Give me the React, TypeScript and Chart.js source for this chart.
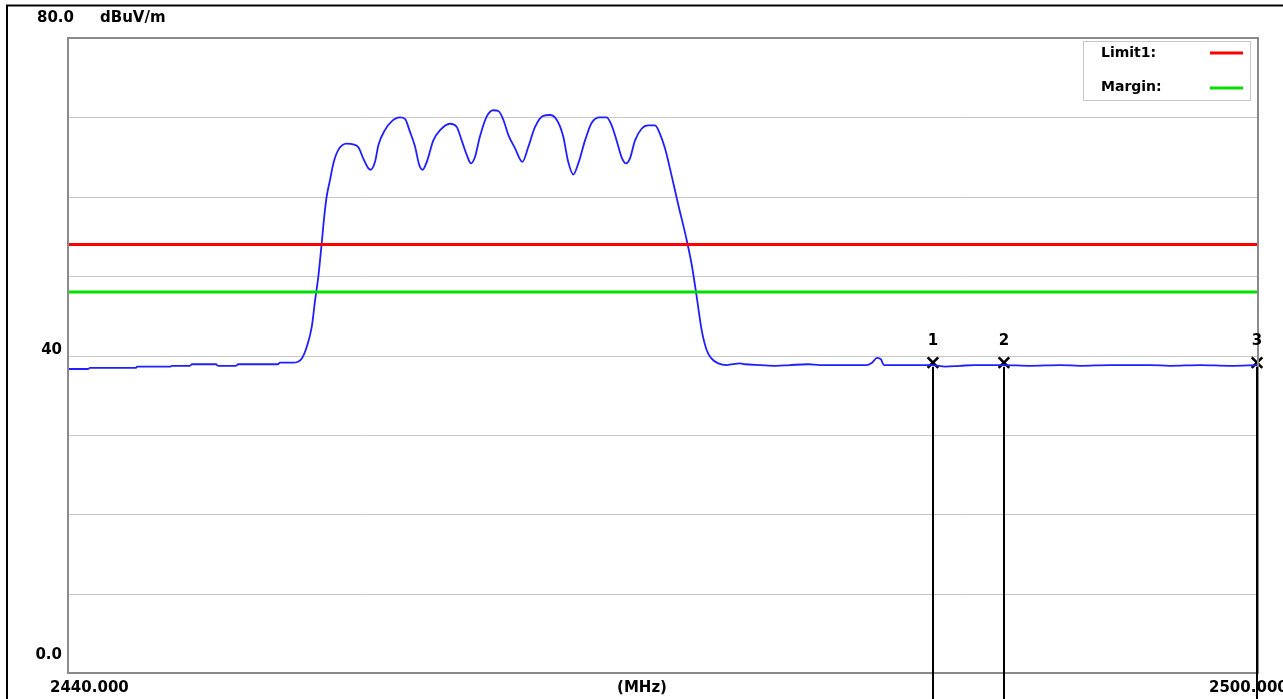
import React, { useEffect, useRef } from 'react';
import { Chart, registerables } from 'chart.js';

Chart.register(...registerables);

// Spectrum trace (frequency in MHz, level in dBuV/m)
const freqMHz = [
  2440.0, 2441.01, 2441.11, 2443.43, 2443.48, 2445.14, 2445.24, 2446.15, 2446.25, 2447.46,
  2447.56, 2448.47, 2448.57, 2450.59, 2450.69, 2451.34, 2451.78, 2452.04, 2452.29, 2452.46,
  2452.62, 2452.79, 2452.92, 2453.04, 2453.21, 2453.38, 2453.63, 2454.05, 2454.38, 2454.65,
  2454.89, 2455.14, 2455.26, 2455.48, 2455.65, 2455.98, 2456.32, 2456.74, 2456.99, 2457.24,
  2457.5, 2457.71, 2457.88, 2458.09, 2458.42, 2458.76, 2459.26, 2459.6, 2459.85, 2460.1,
  2460.32, 2460.52, 2460.77, 2461.11, 2461.44, 2461.7, 2461.95, 2462.2, 2462.54, 2462.91,
  2463.21, 2463.55, 2463.96, 2464.3, 2464.64, 2464.97, 2465.22, 2465.48, 2465.73, 2466.07,
  2466.4, 2466.82, 2467.16, 2467.41, 2467.66, 2467.91, 2468.13, 2468.33, 2468.59, 2468.93,
  2469.26, 2469.6, 2469.85, 2470.1, 2470.44, 2470.77, 2471.19,
  2471.45, 2471.7, 2471.95, 2472.2, 2472.45, 2472.79, 2473.21,
  2473.88, 2474.13, 2474.89, 2475.7, 2476.4, 2477.31, 2477.92, 2479.23, 2480.24, 2480.54,
  2480.79, 2480.99, 2481.14, 2482.2, 2483.61, 2484.22, 2484.97, 2485.73, 2487.19, 2488.5,
  2490.02, 2491.03, 2492.54, 2494.55, 2495.56, 2497.08, 2498.59, 2500.0,
];
const levelDbuV = [
  38.3, 38.3, 38.45, 38.45, 38.6, 38.6, 38.7, 38.7, 38.9, 38.9,
  38.7, 38.7, 38.9, 38.9, 39.1, 39.1, 39.6, 41.1, 43.6, 47.0,
  49.9, 54.1, 57.5, 60.0, 62.1, 64.2, 65.9, 66.7, 66.6, 66.2,
  64.8, 63.6, 63.4, 64.4, 66.5, 68.4, 69.5, 70.0, 69.8, 68.2,
  66.3, 64.0, 63.4, 64.4, 67.1, 68.4, 69.2, 68.8, 67.1, 65.3,
  64.2, 65.0, 67.6, 70.1, 70.9, 70.8, 69.7, 67.8, 66.1, 64.4,
  66.3, 68.8, 70.2, 70.3, 69.7, 67.6, 64.4, 62.8, 64.2, 67.1,
  69.3, 70.0, 70.0, 69.0, 67.1, 65.0, 64.2, 64.8, 67.1, 68.6,
  69.0, 69.0, 67.9, 66.1, 62.6, 59.0, 54.6,
  51.4, 47.4, 43.2, 40.7, 39.6, 39.0, 38.8,
  39.0, 38.9, 38.8, 38.7, 38.8, 38.9, 38.8, 38.8, 38.8, 39.1,
  39.7, 39.5, 38.8, 38.8, 38.8, 38.6, 38.7, 38.8, 38.8, 38.7,
  38.8, 38.7, 38.8, 38.8, 38.7, 38.8, 38.7, 38.8,
];

const limitFreq = [2440, 2500];
const limit1Level = [54, 54];
const marginLevel = [48, 48];

const markerFreq = [2483.61, 2487.19, 2499.95];
const markerLevel = [39.1, 39.1, 39.1];
const markerNames = ['1', '2', '3'];

const yGridValues = [10, 20, 30, 40, 50, 60, 70];
const yLabelValues = [80, 40, 0];
const yLabelTexts = ['80.0', '40', '0.0'];
const yUnit = 'dBuV/m';
const xLabelTexts = ['2440.000', '(MHz)', '2500.000'];
const legendNames = ['Limit1:', 'Margin:'];
const legendColors = ['#ff0000', '#00e000'];

const FONT = 'bold 15px "DejaVu Sans", "Liberation Sans", sans-serif';
const LEGEND_FONT = 'bold 14px "DejaVu Sans", "Liberation Sans", sans-serif';

const decorations = {
  id: 'decorations',
  beforeDatasetsDraw(chart: any) {
    const { ctx, chartArea } = chart;
    const ys = chart.scales.y;
    ctx.save();
    ctx.strokeStyle = '#c8c8c8';
    ctx.lineWidth = 1;
    yGridValues.forEach((v) => {
      const y = Math.round(ys.getPixelForValue(v)) + 0.5;
      ctx.beginPath();
      ctx.moveTo(chartArea.left, y);
      ctx.lineTo(chartArea.right, y);
      ctx.stroke();
    });
    ctx.restore();
  },
  afterDatasetsDraw(chart: any) {
    const { ctx, chartArea } = chart;
    const xs = chart.scales.x;
    const ys = chart.scales.y;
    const { left, right, top, bottom } = chartArea;
    ctx.save();

    // outer black frame
    ctx.strokeStyle = '#000';
    ctx.lineWidth = 2;
    ctx.beginPath();
    ctx.moveTo(7, 3000);
    ctx.lineTo(7, 5.5);
    ctx.lineTo(3000, 5.5);
    ctx.stroke();

    // plot border
    ctx.strokeStyle = '#8a8a8a';
    ctx.lineWidth = 2;
    ctx.strokeRect(left, top, right - left, bottom - top);

    // marker stems
    ctx.strokeStyle = '#000';
    ctx.lineWidth = 2;
    markerFreq.forEach((f, i) => {
      const x = Math.round(xs.getPixelForValue(f));
      const y = ys.getPixelForValue(markerLevel[i]);
      ctx.beginPath();
      ctx.moveTo(x, y + 4);
      ctx.lineTo(x, chart.height + 10);
      ctx.stroke();
    });

    // marker numbers
    ctx.fillStyle = '#000';
    ctx.font = FONT;
    ctx.textAlign = 'center';
    ctx.textBaseline = 'middle';
    markerFreq.forEach((f, i) => {
      const x = xs.getPixelForValue(f);
      const y = ys.getPixelForValue(markerLevel[i]);
      ctx.fillText(markerNames[i], x, y - 22);
    });

    // y labels
    ctx.textAlign = 'right';
    const yOffsets = [-20, -5, -18];
    const yRight = [left + 6, left - 6, left - 6];
    yLabelValues.forEach((v, i) => {
      ctx.fillText(yLabelTexts[i], yRight[i], ys.getPixelForValue(v) + yOffsets[i]);
    });
    ctx.textAlign = 'left';
    ctx.fillText(yUnit, left + 32, top - 20);

    // x labels
    const yx = bottom + 15;
    ctx.textAlign = 'left';
    ctx.fillText(xLabelTexts[0], xs.getPixelForValue(2440) - 18, yx);
    ctx.textAlign = 'center';
    ctx.fillText(xLabelTexts[1], (left + right) / 2 - 21, yx);
    ctx.textAlign = 'left';
    ctx.fillText(xLabelTexts[2], xs.getPixelForValue(2500) - 49, yx);

    // legend box
    const bx = right - 175;
    const by = top + 3;
    ctx.strokeStyle = '#c8c8c8';
    ctx.lineWidth = 1;
    ctx.strokeRect(bx + 0.5, by + 0.5, 167, 59);
    ctx.font = LEGEND_FONT;
    ctx.textAlign = 'left';
    ctx.textBaseline = 'middle';
    const rowY = [by + 12, by + 46];
    legendNames.forEach((n, i) => {
      ctx.fillStyle = '#000';
      ctx.fillText(n, bx + 18, rowY[i]);
      ctx.strokeStyle = legendColors[i];
      ctx.lineWidth = 3;
      ctx.beginPath();
      ctx.moveTo(bx + 127, rowY[i] + (i === 0 ? 0 : 1));
      ctx.lineTo(bx + 160, rowY[i] + (i === 0 ? 0 : 1));
      ctx.stroke();
    });

    ctx.restore();
  },
};

export default function App() {
  const ref = useRef<HTMLCanvasElement>(null);

  useEffect(() => {
    document.body.style.margin = '0';
    document.body.style.overflow = 'hidden';
    const canvas = ref.current;
    if (!canvas) return;
    const chart = new Chart(canvas, {
      type: 'line',
      data: {
        datasets: [
          {
            label: 'Limit1',
            data: limitFreq.map((f, i) => ({ x: f, y: limit1Level[i] })),
            borderColor: '#ff0000',
            borderWidth: 3,
            pointRadius: 0,
            fill: false,
          },
          {
            label: 'Margin',
            data: limitFreq.map((f, i) => ({ x: f, y: marginLevel[i] })),
            borderColor: '#00e000',
            borderWidth: 3,
            pointRadius: 0,
            fill: false,
          },
          {
            label: 'Trace',
            data: freqMHz.map((f, i) => ({ x: f, y: levelDbuV[i] })),
            borderColor: '#2020ff',
            borderWidth: 1.8,
            pointRadius: 0,
            fill: false,
            cubicInterpolationMode: 'monotone',
          },
          {
            label: 'Markers',
            data: markerFreq.map((f, i) => ({ x: f, y: markerLevel[i] })),
            showLine: false,
            pointStyle: 'crossRot',
            pointRadius: 7.5,
            pointBorderWidth: 2.6,
            pointBorderColor: '#000',
            borderColor: '#000',
            clip: false,
          } as any,
        ],
      },
      options: {
        animation: false,
        responsive: false,
        devicePixelRatio: 1,
        layout: { padding: { left: 68, top: 38, right: 25, bottom: 26 } },
        plugins: {
          legend: { display: false },
          tooltip: { enabled: false },
          title: { display: false },
        },
        scales: {
          x: { type: 'linear', min: 2440, max: 2500, display: false },
          y: { type: 'linear', min: 0, max: 80, display: false },
        },
        events: [],
      },
      plugins: [decorations],
    });
    return () => chart.destroy();
  }, []);

  return (
    <div style={{ width: 1283, height: 699, background: '#fff' }}>
      <canvas ref={ref} width={1283} height={699} style={{ display: 'block' }} />
    </div>
  );
}
